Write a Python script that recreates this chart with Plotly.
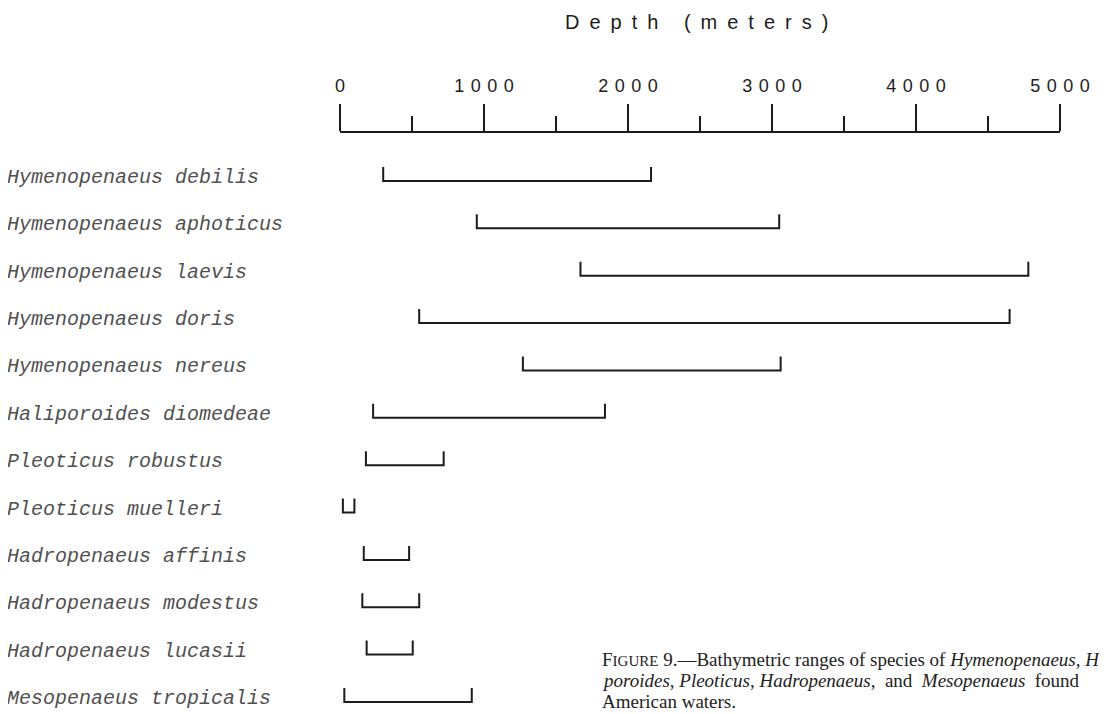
import plotly.graph_objects as go

# bathymetric ranges (meters)
species = [
    "Hymenopenaeus debilis",
    "Hymenopenaeus aphoticus",
    "Hymenopenaeus laevis",
    "Hymenopenaeus doris",
    "Hymenopenaeus nereus",
    "Haliporoides diomedeae",
    "Pleoticus robustus",
    "Pleoticus muelleri",
    "Hadropenaeus affinis",
    "Hadropenaeus modestus",
    "Hadropenaeus lucasii",
    "Mesopenaeus tropicalis",
]
depth_min = [300, 950, 1670, 550, 1270, 230, 180, 20, 165, 155, 185, 30]
depth_max = [2160, 3050, 4780, 4650, 3060, 1840, 720, 100, 480, 550, 505, 915]

major_ticks = [0, 1000, 2000, 3000, 4000, 5000]
minor_ticks = [500, 1500, 2500, 3500, 4500]

# the page body keeps its default 8px margin, so the figure is shrunk by that much
PAGE = 8
W, H = 1107 - PAGE, 714 - PAGE
ml, mr, mt, mb = 340 - PAGE, 47, 133 - PAGE, 4
plot_w = W - ml - mr
plot_h = H - mt - mb
row_px = 47.36
y_top = -(176 - 133) / row_px
y_bot = y_top + plot_h / row_px

line_off = 5 / row_px     # bracket base a little below label centre
cap_h = 14 / row_px       # bracket end caps point upwards
ink = "#1c1c1c"


def spaced(s, gap=" \u200a"):
    return gap.join(s)


def paper_y(py):
    return (H - mb - (py - PAGE)) / plot_h


def paper_x(px):
    return (px - PAGE - ml) / plot_w


fig = go.Figure()
for i, (lo, hi) in enumerate(zip(depth_min, depth_max)):
    fig.add_trace(go.Scatter(
        x=[lo, lo, hi, hi],
        y=[i + line_off - cap_h, i + line_off, i + line_off, i + line_off - cap_h],
        mode="lines", line=dict(color=ink, width=2),
        showlegend=False, hoverinfo="skip"))

width = max(len(s) for s in species)
labels = [s + "\u00a0" * (width - len(s)) for s in species]

fig.update_xaxes(
    side="top", range=[0, 5000], automargin=False,
    tickvals=major_ticks, ticktext=[spaced(str(t)) for t in major_ticks],
    ticks="outside", ticklen=27, tickwidth=1.5, tickcolor=ink,
    showline=True, linewidth=2, linecolor=ink,
    showgrid=False, zeroline=False,
    minor=dict(tickvals=minor_ticks, ticks="outside", ticklen=15,
               tickwidth=1.5, tickcolor=ink, showgrid=False),
    tickfont=dict(family="Liberation Sans", size=18, color=ink),
    ticklabelstandoff=5,
)
fig.update_yaxes(
    range=[y_bot, y_top], automargin=False,
    tickvals=list(range(len(species))), ticktext=labels,
    showline=False, showgrid=False, zeroline=False, ticks="",
    tickfont=dict(family="Liberation Mono", size=20, color="#505050", style="italic"),
    ticklabelstandoff=56,
)

fig.add_annotation(
    text="D\u2002e\u2002p\u2002t\u2002h\u2002 \u2002(\u2002m\u2002e\u2002t\u2002e\u2002r\u2002s\u2002)",
    xref="paper", yref="paper", x=paper_x(696), y=paper_y(22),
    xanchor="center", yanchor="middle", showarrow=False,
    font=dict(family="Liberation Sans", size=20, color=ink))

caption = [
    "F<span style='font-size:15px'>IGURE</span> 9.\u2014Bathymetric ranges of species of <i>Hymenopenaeus</i>, <i>H</i>",
    "<i>poroides</i>, <i>Pleoticus</i>, <i>Hadropenaeus</i>,\u00a0\u00a0and\u00a0\u00a0<i>Mesopenaeus</i>\u00a0\u00a0found",
    "American waters.",
]
for k, line in enumerate(caption):
    fig.add_annotation(
        text=line, xref="paper", yref="paper",
        x=paper_x(600), y=paper_y(659 + 21 * k),
        xanchor="left", yanchor="middle", showarrow=False, align="left",
        font=dict(family="Liberation Serif", size=19, color="#222"))

fig.update_layout(
    width=W, height=H, margin=dict(l=ml, r=mr, t=mt, b=mb),
    plot_bgcolor="white", paper_bgcolor="white",
)

fig.write_html("out.html")
